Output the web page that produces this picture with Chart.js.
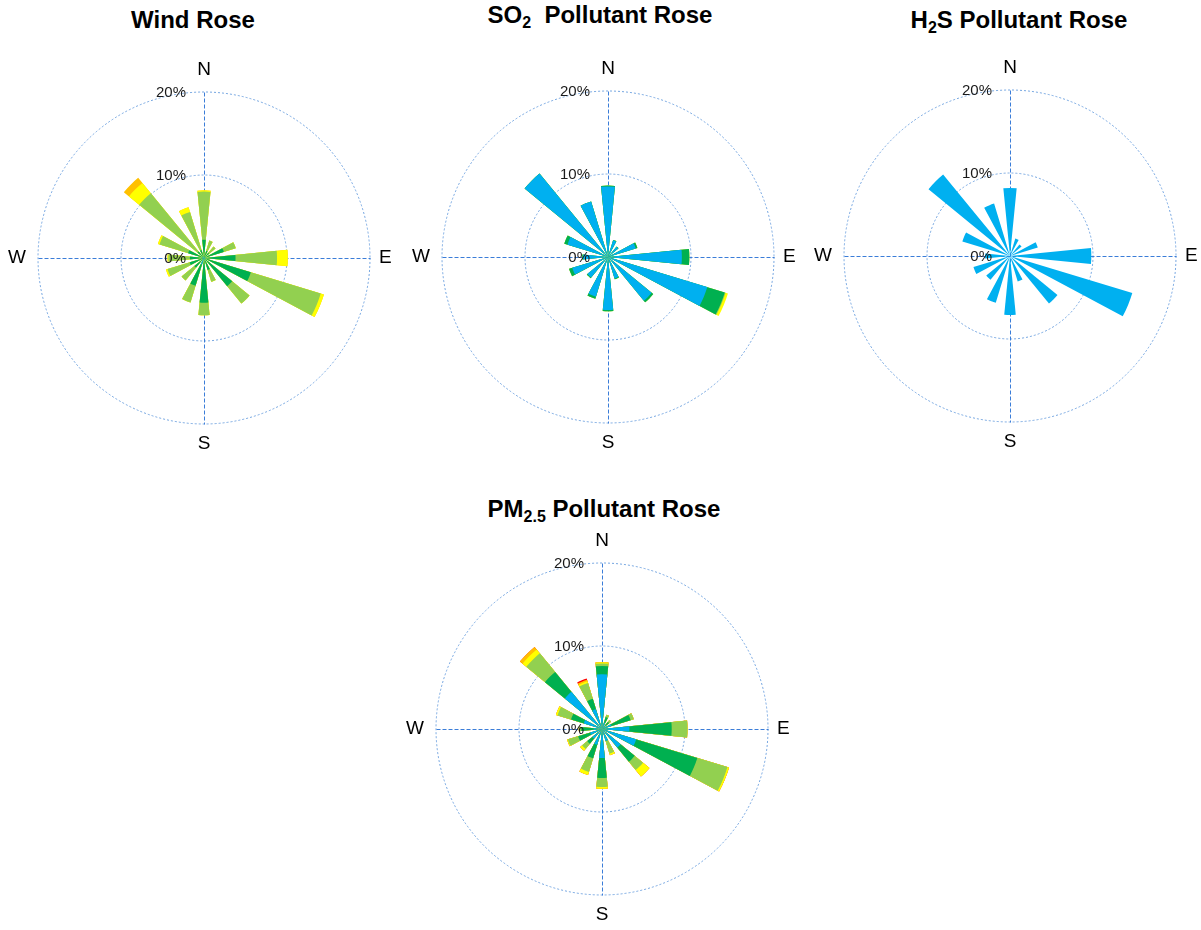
<!DOCTYPE html>
<html>
<head>
<meta charset="utf-8">
<script src="https://cdn.jsdelivr.net/npm/chart.js@4.4.0/dist/chart.umd.min.js"></script>
<style>
  html, body { margin: 0; padding: 0; background: #fff; overflow: hidden; }
  body { width: 1201px; height: 930px; position: relative; font-family: "Liberation Sans", Arial, sans-serif; }
  .title { position: absolute; width: 400px; text-align: center; font-weight: bold; font-size: 24px; line-height: 24px; color: #000; white-space: nowrap; }
  .title sub { font-size: 16px; line-height: 0; vertical-align: -5px; }
  canvas { position: absolute; }
</style>
</head>
<body>
<div class="title" style="left:-7px; top:8px;">Wind Rose</div>
<div class="title" style="left:400px; top:3px;">SO<sub>2</sub>&nbsp; Pollutant Rose</div>
<div class="title" style="left:819px; top:8px;">H<sub>2</sub>S Pollutant Rose</div>
<div class="title" style="left:404px; top:497px;">PM<sub>2.5</sub> Pollutant Rose</div>

<canvas id="windRose" width="400" height="400" style="left:4px; top:58px;"></canvas>
<canvas id="so2Rose" width="400" height="400" style="left:408px; top:57px;"></canvas>
<canvas id="h2sRose" width="400" height="400" style="left:810px; top:56px;"></canvas>
<canvas id="pmRose" width="400" height="400" style="left:402px; top:529px;"></canvas>

<script>
// 16 compass directions, clockwise from north
const directions = ["N", "NNE", "NE", "ENE", "E", "ESE", "SE", "SSE",
                    "S", "SSW", "SW", "WSW", "W", "WNW", "NW", "NNW"];
const compassLabels = ["N", "E", "S", "W"];
const tickValues = [0, 10, 20];   // % frequency rings

// band colours, inner to outer
const bandColors = ["#00b0f0", "#00b050", "#92d050", "#ffff00", "#ffc000", "#ff0000"];

// Wind rose (% frequency per band)
const windBlue   = [0.2, 0.1, 0.1, 0.1, 0.2, 0.2, 0.2, 0.2, 0.3, 0.8, 0.2, 0.2, 0.2, 0.2, 0.2, 0.2];
const windDkGrn  = [2.0, 0.8, 0.7, 2.4, 3.6, 5.7, 4.2, 1.3, 5.1, 2.7, 1.3, 1.6, 1.5, 1.8, 0.8, 0.8];
const windLtGrn  = [5.8, 1.3, 1.0, 1.5, 5.0, 8.8, 2.7, 1.5, 1.5, 2.1, 2.0, 2.8, 2.6, 3.6, 9.1, 4.8];
const windYellow = [0.15, 0, 0, 0, 1.3, 0.4, 0, 0, 0, 0, 0, 0.2, 0.1, 0.2, 1.6, 0.6];
const windOrange = [0, 0, 0, 0, 0, 0, 0, 0, 0, 0, 0, 0, 0, 0, 0.8, 0];

// SO2 rose
const so2Blue   = [8.5, 2.1, 1.6, 3.5, 8.9, 12.5, 6.8, 2.7, 6.4, 5.0, 3.2, 4.5, 3.0, 5.1, 13.0, 7.0];
const so2DkGrn  = [0.1, 0.05, 0.05, 0.2, 0.9, 2.2, 0.25, 0.1, 0.15, 0.25, 0.1, 0.4, 0.1, 0.4, 0, 0];
const so2LtGrn  = [0, 0, 0, 0, 0, 0.1, 0, 0, 0, 0, 0, 0, 0, 0, 0, 0];
const so2Yellow = [0, 0, 0, 0, 0, 0.3, 0, 0, 0, 0, 0, 0, 0, 0, 0, 0];

// H2S rose
const h2sBlue = [8.2, 2.2, 1.8, 3.5, 9.8, 15.4, 7.4, 3.2, 7.1, 5.9, 3.7, 4.6, 3.0, 6.0, 12.7, 6.6];

// PM2.5 rose
const pmBlue   = [6.6, 0.8, 0.6, 1.2, 3.3, 4.3, 2.9, 1.5, 3.5, 2.0, 1.5, 1.5, 1.0, 2.3, 5.8, 2.5];
const pmDkGrn  = [1.0, 0.7, 0.5, 2.4, 5.1, 7.7, 2.2, 0, 2.4, 1.7, 0.8, 1.5, 1.5, 1.6, 3.1, 1.3];
const pmLtGrn  = [0.3, 0.3, 0.3, 0.4, 1.9, 3.8, 1.3, 1.6, 1.1, 1.7, 0.8, 1.3, 0.3, 1.7, 2.9, 2.0];
const pmYellow = [0.15, 0, 0, 0, 0, 0.2, 1.0, 0.2, 0.2, 0.4, 0.3, 0.1, 0, 0.2, 0.6, 0.2];
const pmOrange = [0, 0, 0, 0, 0, 0, 0, 0, 0, 0, 0, 0, 0, 0, 0.4, 0.2];
const pmRed    = [0, 0, 0, 0, 0, 0, 0, 0, 0, 0, 0, 0, 0, 0, 0, 0.15];

// each direction gets a petal slot plus an empty gap slot
function slotLabels() {
  const out = [];
  directions.forEach(d => { out.push(d); out.push(""); });
  return out;
}

function buildDatasets(bands) {
  const running = directions.map(() => 0);
  return bands.map((band, k) => {
    const data = [];
    band.forEach((v, i) => {
      running[i] += v;
      data.push(running[i]);
      data.push(0);
    });
    return {
      data: data,
      backgroundColor: bandColors[k],
      borderWidth: 0
    };
  });
}

const roseFrame = {
  id: "roseFrame",
  beforeDatasetsDraw(chart) {
    const r = chart.scales.r;
    const ctx = chart.ctx;
    const R = r.getDistanceFromCenterForValue(r.max);
    const cx = r.xCenter + 0.5, cy = r.yCenter + 0.5;
    ctx.save();
    ctx.strokeStyle = "#3b7dd8";
    ctx.lineWidth = 1;
    ctx.setLineDash([4, 2]);
    ctx.beginPath();
    ctx.moveTo(cx, cy - R); ctx.lineTo(cx, cy + R);
    ctx.moveTo(cx - R, cy); ctx.lineTo(cx + R, cy);
    ctx.stroke();
    ctx.restore();
  },
  afterDatasetsDraw(chart) {
    const r = chart.scales.r;
    const ctx = chart.ctx;
    const R = r.getDistanceFromCenterForValue(r.max);
    const cx = r.xCenter, cy = r.yCenter;
    ctx.save();
    ctx.fillStyle = "#1a1a1a";
    // ring labels
    ctx.font = "15px 'Liberation Sans', Arial, sans-serif";
    ctx.textAlign = "right";
    ctx.textBaseline = "middle";
    tickValues.forEach(v => {
      ctx.fillText(v + "%", cx - 18, cy - r.getDistanceFromCenterForValue(v) + 1);
    });
    // compass letters
    ctx.font = "19px 'Liberation Sans', Arial, sans-serif";
    ctx.fillStyle = "#000";
    ctx.textAlign = "center";
    ctx.fillText(compassLabels[0], cx, cy - R - 22);
    ctx.fillText(compassLabels[2], cx, cy + R + 20);
    ctx.textAlign = "left";
    ctx.fillText(compassLabels[1], cx + R + 9, cy);
    ctx.textAlign = "right";
    ctx.fillText(compassLabels[3], cx - R - 12, cy);
    ctx.restore();
  }
};

function makeRose(id, bands) {
  new Chart(document.getElementById(id), {
    type: "polarArea",
    data: {
      labels: slotLabels(),
      datasets: buildDatasets(bands)
    },
    options: {
      responsive: false,
      animation: false,
      layout: { padding: 34 },
      plugins: {
        legend: { display: false },
        tooltip: { enabled: false }
      },
      scales: {
        r: {
          min: 0,
          max: 20,
          startAngle: -5.625,
          ticks: { display: false, stepSize: 10 },
          pointLabels: { display: false },
          angleLines: { display: false },
          grid: { circular: true, color: "#74a5e0", lineWidth: 1 },
          border: { dash: [2, 2] }
        }
      }
    },
    plugins: [roseFrame]
  });
}

makeRose("windRose", [windBlue, windDkGrn, windLtGrn, windYellow, windOrange]);
makeRose("so2Rose", [so2Blue, so2DkGrn, so2LtGrn, so2Yellow]);
makeRose("h2sRose", [h2sBlue]);
makeRose("pmRose", [pmBlue, pmDkGrn, pmLtGrn, pmYellow, pmOrange, pmRed]);
</script>
</body>
</html>
